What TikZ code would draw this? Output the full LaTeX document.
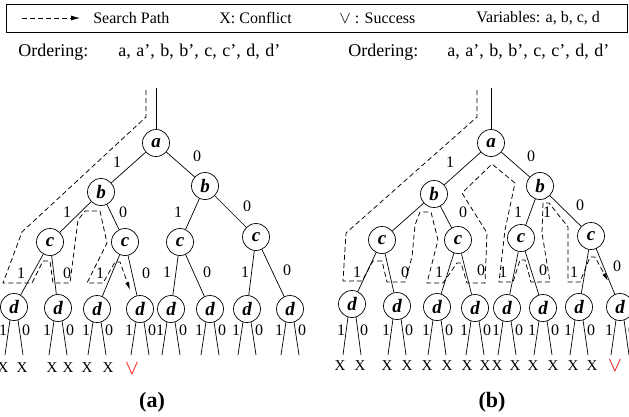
\documentclass[tikz,border=0pt]{standalone}
\usepackage{fontspec}
\setmainfont{Liberation Serif}
\usepackage{amssymb}
\usetikzlibrary{arrows.meta}
\newcommand{\widespaces}{\spaceskip=5.5pt\relax}

\begin{document}
\begin{tikzpicture}[
  x=1pt, y=-1pt,
  line width=0.7pt,
  vnode/.style={
    circle,
    draw,
    inner sep=0pt,
    minimum size=27pt,
    font=\fontsize{19}{19}\selectfont\bfseries\itshape
  },
  lbl/.style={inner sep=0pt, font=\fontsize{16}{16}\selectfont},
  keytext/.style={anchor=west, inner sep=0pt, font=\fontsize{16}{16}\selectfont},
  ordtext/.style={anchor=west, inner sep=0pt, font=\fontsize{18}{18}\selectfont},
  xmark/.style={inner sep=0pt, font=\fontsize{15}{15}\selectfont},
  okmark/.style={inner sep=0pt, text=red, font=\fontsize{20}{20}\selectfont},
  search/.style={dash pattern=on 5pt off 3pt, line width=0.75pt},
  caption/.style={font=\fontsize{22}{22}\selectfont\bfseries}
]
\useasboundingbox (0,0) rectangle (629,416);

\draw[line width=0.9pt] (6,4) rectangle (627,32);
\coordinate (keyS) at (22,18);
\coordinate (keyE) at (80,18);
\draw[search,-{Latex[length=9pt,width=5pt]}] (keyS) -- (keyE);
\node[keytext] (kpath) at (93,18) {Search Path};
\node[keytext] (kconf) at (219,18) {X: Conflict};
\node[keytext] (ksucc) at (339,18) {$\vee$ : Success};
\node[keytext] (kvars) at (476,18) {Variables: a, b, c, d};
\node[ordtext] (ord1) at (18,52) {Ordering:};
\node[ordtext] (seq1) at (118,52) {\widespaces a, a', b, b', c, c', d, d'};
\node[ordtext] (ord2) at (348,52) {Ordering:};
\node[ordtext] (seq2) at (447,52) {\widespaces a, a', b, b', c, c', d, d'};

\node[vnode] (a1) at (156,143) {a};
\node[vnode] (b11) at (101,192) {b};
\node[vnode] (b12) at (205,186) {b};
\node[vnode] (c11) at (50,242) {c};
\node[vnode] (c12) at (125,242) {c};
\node[vnode] (c13) at (180,242) {c};
\node[vnode] (c14) at (256,237) {c};
\node[vnode] (a2) at (491,143) {a};
\node[vnode] (b21) at (434,194) {b};
\node[vnode] (b22) at (540,186) {b};
\node[vnode] (c21) at (382,240) {c};
\node[vnode] (c22) at (458,240) {c};
\node[vnode] (c23) at (521,238) {c};
\node[vnode] (c24) at (591,236) {c};
\foreach \nm/\x/\y in {d11/14/307, d12/58/308, d13/97/309, d14/140/309,
  d15/171/309, d16/210/309, d17/247/309, d18/290/309,
  d21/352/304, d22/397/306, d23/437/307, d24/475/308,
  d25/507/308, d26/543/308, d27/579/307, d28/620/307}{
  \node[vnode] (\nm) at (\x,\y) {d};
  \coordinate (l\nm) at (\x-9,355);
  \coordinate (r\nm) at (\x+9,355);
  \draw (\nm.253) -- (l\nm);
  \draw (\nm.287) -- (r\nm);
  \node[lbl] at (\x-11,330) {1};
  \node[lbl] at (\x+12,330) {0};
}

\coordinate (top1) at (156,88);
\coordinate (top2) at (491,88);
\draw (top1) -- (a1);
\draw (top2) -- (a2);
\draw (a1) -- (b11);
\draw (a1) -- (b12);
\draw (b11) -- (c11);
\draw (b11) -- (c12);
\draw (b12) -- (c13);
\draw (b12) -- (c14);
\draw (c11) -- (d11);
\draw (c11) -- (d12);
\draw (c12) -- (d13);
\draw (c12) -- (d14);
\draw (c13) -- (d15);
\draw (c13) -- (d16);
\draw (c14) -- (d17);
\draw (c14) -- (d18);
\draw (a2) -- (b21);
\draw (a2) -- (b22);
\draw (b21) -- (c21);
\draw (b21) -- (c22);
\draw (b22) -- (c23);
\draw (b22) -- (c24);
\draw (c21) -- (d21);
\draw (c21) -- (d22);
\draw (c22) -- (d23);
\draw (c22) -- (d24);
\draw (c23) -- (d25);
\draw (c23) -- (d26);
\draw (c24) -- (d27);
\draw (c24) -- (d28);

\node[lbl] at (117,162) {1};
\node[lbl] at (197,156) {0};
\node[lbl] at (67,212) {1};
\node[lbl] at (123,212) {0};
\node[lbl] at (178,212) {1};
\node[lbl] at (247,206) {0};
\node[lbl] at (21,273) {1};
\node[lbl] at (67,273) {0};
\node[lbl] at (100,273) {1};
\node[lbl] at (146,273) {0};
\node[lbl] at (167,272) {1};
\node[lbl] at (207,272) {0};
\node[lbl] at (245,272) {1};
\node[lbl] at (287,270) {0};
\node[lbl] at (450,162) {1};
\node[lbl] at (531,156) {0};
\node[lbl] at (463,212) {0};
\node[lbl] at (518,212) {1};
\node[lbl] at (547,212) {1};
\node[lbl] at (580,205) {0};
\node[lbl] at (357,272) {1};
\node[lbl] at (405,272) {0};
\node[lbl] at (439,272) {1};
\node[lbl] at (481,270) {0};
\node[lbl] at (503,272) {1};
\node[lbl] at (543,270) {0};
\node[lbl] at (574,272) {1};
\node[lbl] at (617,266) {0};

\draw[search,-{Latex[length=8pt,width=4pt]}] (146,90) -- (146,117) -- (22,232)
  -- (3,283) -- (32,283) -- (43,261) -- (50,261) -- (53,283) -- (70,283)
  -- (78,220) -- (85,211) -- (100,211) -- (107,243) -- (87,283) -- (103,283)
  -- (115,262) -- (120,262) -- (130,290);
\draw[search,-{Latex[length=8pt,width=4pt]}] (477,90) -- (477,117) -- (346,233)
  -- (343,281) -- (362,281) -- (373,261) -- (382,261) -- (387,282) -- (405,282)
  -- (412,257) -- (415,225) -- (420,212) -- (431,212) -- (438,240) -- (427,283)
  -- (443,283) -- (457,263) -- (461,263) -- (467,283) -- (485,283) -- (487,233)
  -- (462,193) -- (492,164) -- (515,183) -- (505,230) -- (499,282) -- (513,282)
  -- (520,260) -- (525,260) -- (531,282) -- (550,282) -- (542,233) -- (543,203)
  -- (549,203) -- (568,227) -- (568,282) -- (580,282) -- (590,257) -- (595,257)
  -- (608,281);

\foreach \x in {3,22,52,68,87,108}
  \node[xmark] at (\x,368) {X};
\foreach \x in {340,360,387,407,427,447,467,485,497,515,533,553,573,592}
  \node[xmark] at (\x,366) {X};
\node[okmark] at (132,369) {$\vee$};
\node[okmark] at (615,366) {$\vee$};

\node[caption] (capa) at (152,402) {(a)};
\node[caption] (capb) at (492,402) {(b)};
\end{tikzpicture}
\end{document}
